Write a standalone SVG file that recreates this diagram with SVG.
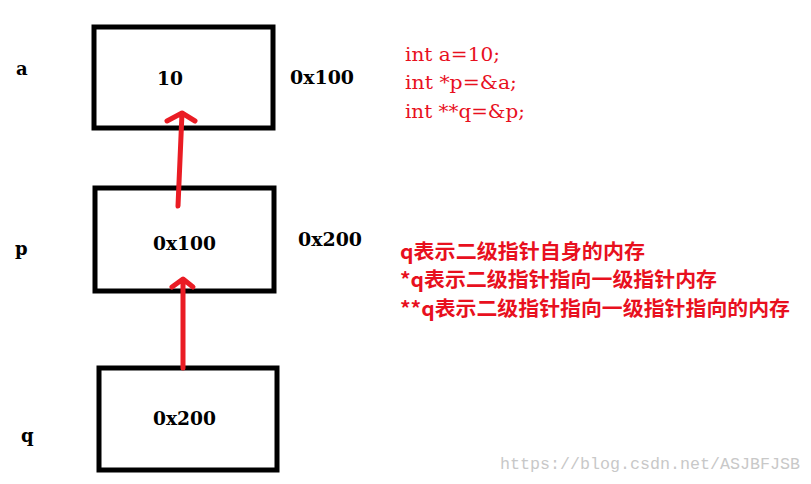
<svg xmlns="http://www.w3.org/2000/svg" width="811" height="484" viewBox="0 0 811 484">
<style>
.box{fill:#fff;stroke:#000;stroke-width:5}
.t{font-family:"DejaVu Serif",serif;font-size:18px;font-weight:bold;fill:#000}
.r{font-family:"DejaVu Serif",serif;font-size:18px;fill:#e8101e}
.c{font-family:"Noto Sans CJK SC",sans-serif;font-size:20px;font-weight:bold;fill:#e8101e}
.arr{fill:none;stroke:#ea1c24;stroke-width:5;stroke-linecap:round;stroke-linejoin:round}
</style>
<rect width="811" height="484" fill="#fff"/>
<g id="nodeA"><rect class="box" x="94" y="27" width="179" height="101"/><text class="t" x="157" y="85" textLength="26" lengthAdjust="spacingAndGlyphs">10</text></g>
<g id="nodeP"><rect class="box" x="95" y="188" width="179" height="103"/><text class="t" x="153" y="250" textLength="63" lengthAdjust="spacingAndGlyphs">0x100</text></g>
<g id="nodeQ"><rect class="box" x="99" y="368" width="178" height="102"/><text class="t" x="153" y="425" textLength="63" lengthAdjust="spacingAndGlyphs">0x200</text></g>
<g id="labels">
<text class="t" x="16" y="75">a</text>
<text class="t" x="15" y="255">p</text>
<text class="t" x="21" y="442">q</text>
<text class="t" x="290" y="84" textLength="64" lengthAdjust="spacingAndGlyphs">0x100</text>
<text class="t" x="298" y="246" textLength="64" lengthAdjust="spacingAndGlyphs">0x200</text>
<text class="r" x="405" y="61" textLength="95" lengthAdjust="spacingAndGlyphs">int a=10;</text>
<text class="r" x="405" y="89" textLength="112" lengthAdjust="spacingAndGlyphs">int *p=&amp;a;</text>
<text class="r" x="405" y="118" textLength="120" lengthAdjust="spacingAndGlyphs">int **q=&amp;p;</text>
<text class="c" x="400" y="259" textLength="245" lengthAdjust="spacingAndGlyphs">q表示二级指针自身的内存</text>
<text class="c" x="400" y="287" textLength="317" lengthAdjust="spacingAndGlyphs">*q表示二级指针指向一级指针内存</text>
<text class="c" x="400" y="316" textLength="390" lengthAdjust="spacingAndGlyphs">**q表示二级指针指向一级指针指向的内存</text>
<text x="500" y="469" font-family="Liberation Mono,monospace" font-size="16" fill="#c8c8c8" textLength="300" lengthAdjust="spacingAndGlyphs">https://blog.csdn.net/ASJBFJSB</text>
</g>
<g id="connectors">
<path class="arr" d="M178,206 L182,113 M167,121 L182,113 L195,121"/>
<path class="arr" d="M183,368 L183,280 M172,287 L183,279 L193,287"/>
</g>
</svg>
